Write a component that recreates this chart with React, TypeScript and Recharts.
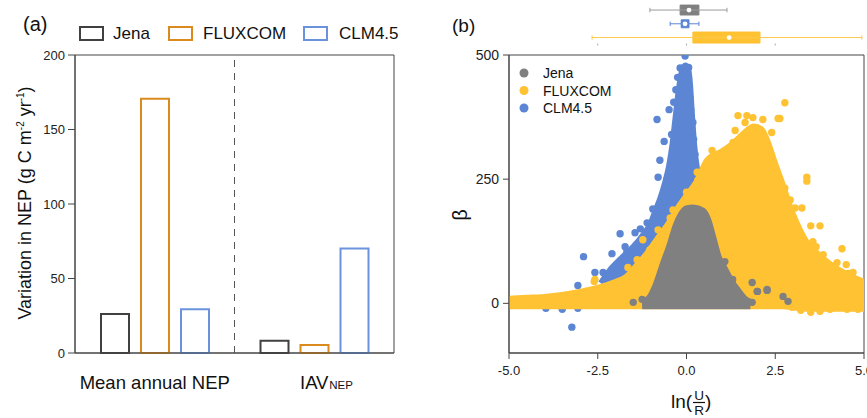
import React from "react";
import {
  Area,
  Bar,
  BarChart,
  ComposedChart,
  ReferenceArea,
  ReferenceLine,
  Scatter,
  XAxis,
  YAxis,
} from "recharts";

const FONT = '"Liberation Sans", Arial, Helvetica, sans-serif';

// ---- panel (a) ----
const groups = ["Mean annual NEP", "IAV"];
const jenaVar = [26.1, 8.2];
const fluxcomVar = [170.6, 5.3];
const clmVar = [29.4, 70.2];
const seriesNames = ["Jena", "FLUXCOM", "CLM4.5"];
const barColors = ["#404040", "#DB8A1E", "#6A93DC"];
const yTicksA = [0, 50, 100, 150, 200];

// ---- panel (b) ----
const dotColors = ["#808080", "#FFC233", "#5C86D4"];
const xTicksB = [-5, -2.5, 0, 2.5, 5];
const yTicksB = [0, 250, 500];

// dense cloud outlines: [x, low, high]
const clmCloud = [
  [-2.4, 0, 40], [-2.1, 0, 70], [-1.8, 0, 92], [-1.5, 0, 112], [-1.2, 0, 138],
  [-1.0, 0, 160], [-0.85, 0, 188], [-0.72, 0, 212], [-0.6, 0, 240], [-0.48, 0, 275],
  [-0.38, 0, 320], [-0.3, 0, 370], [-0.22, 0, 420], [-0.13, 0, 462], [-0.04, 0, 478],
  [0.03, 0, 472], [0.08, 0, 445], [0.13, 0, 390], [0.2, 0, 320], [0.3, 0, 262],
  [0.45, 0, 225],
];
const fluxCloud = [
  [-5.0, -5, 8], [-4.5, -5, 10], [-4.0, -5, 12], [-3.5, -5, 16], [-3.0, -5, 22],
  [-2.5, -5, 30], [-2.0, -5, 42], [-1.7, -5, 52], [-1.4, -5, 75], [-1.1, -5, 100],
  [-0.8, -5, 130], [-0.5, -5, 160], [-0.2, -5, 195], [0.0, -5, 215], [0.3, -5, 245],
  [0.6, -5, 288], [1.0, -5, 305], [1.3, -5, 320], [1.6, -5, 340], [1.9, -5, 355],
  [2.1, -5, 350], [2.3, -5, 320], [2.45, -5, 288], [2.7, -5, 238], [2.9, -6, 195],
  [3.1, -8, 160], [3.4, -10, 120], [3.7, -10, 98], [4.1, -10, 75], [4.5, -10, 58],
  [4.8, -10, 48], [5.0, -10, 42],
];
const jenaCloud = [
  [-1.25, -5, 2], [-1.05, -5, 10], [-0.85, -5, 38], [-0.65, -5, 80], [-0.45, -5, 120],
  [-0.3, -5, 155], [-0.15, -5, 178], [0.0, -5, 190], [0.2, -5, 192], [0.45, -5, 186],
  [0.6, -5, 168], [0.75, -5, 130], [0.9, -5, 92], [1.05, -5, 72], [1.25, -5, 45],
  [1.45, -5, 25], [1.65, -5, 8], [1.8, -5, 2],
];

// scattered points outside the dense clouds: [x, y]
const clmDots = [
  [-0.83, 370], [-0.49, 390], [-0.63, 326], [-0.75, 288], [-0.8, 254], [-0.66, 214],
  [0.18, 364], [0.1, 414], [-0.04, 498], [-0.18, 474], [0.01, 448], [-1.87, 140],
  [-1.45, 142], [-2.9, 94], [-2.58, 62], [-2.35, 62], [-1.68, 104], [-1.11, 162],
  [-1.73, 114], [-3.06, 36], [-1.87, 72], [-3.96, -10], [-3.5, -12], [-3.06, -10],
  [-3.23, -48], [-4.35, -4], [-0.3, 430], [0.12, 390], [0.2, 330], [-0.55, 250],
  [-1.3, 150], [-2.1, 100], [-0.95, 190], [-0.25, 455], [0.06, 475], [-0.42, 340],
  [0.24, 300], [-0.36, 405],
];
const fluxDots = [
  [2.77, 404], [1.7, 378], [1.87, 374], [2.15, 370], [2.63, 372], [1.45, 378],
  [1.65, 364], [2.58, 372], [1.37, 348], [1.31, 324], [2.4, 344], [0.72, 308],
  [1.03, 302], [0.58, 284], [0.32, 248], [0.3, 264], [0.0, 224], [0.15, 212],
  [-0.04, 204], [3.39, 254], [3.39, 246], [2.77, 232], [2.92, 208], [3.06, 192],
  [3.25, 192], [3.5, 156], [3.76, 156], [3.56, 124], [3.65, 114], [3.85, 98],
  [4.38, 110], [4.24, 82], [4.5, 78], [4.69, 62], [4.55, 60], [2.97, -8],
  [3.22, -14], [3.5, -18], [3.76, -16], [4.04, -12], [4.52, -12], [4.83, -12],
  [-0.8, 148], [-0.46, 172], [-1.23, 128], [-1.03, 108], [-1.39, 88], [-2.58, 48],
  [-0.38, 188], [-2.6, 44], [-1.65, 72],
];
const jenaDots = [
  [-1.5, 2], [-1.25, 8], [1.85, 42], [2.0, 24], [2.27, 26], [2.72, 14], [2.86, 4],
  [1.85, 2], [1.3, 2], [1.08, 84], [1.99, 24], [2.27, 28], [1.3, 48],
];

// box plots above panel (b), top to bottom
const boxNames = ["Jena", "CLM4.5", "FLUXCOM"];
const boxLow = [-1.03, -0.46, -2.66];
const boxQ1 = [-0.18, -0.15, 0.18];
const boxMed = [0.07, -0.04, 1.2];
const boxQ3 = [0.35, 0.07, 2.07];
const boxHigh = [1.14, 0.35, 4.94];
const boxFill = ["#808080", "#5C86D4", "#FFC233"];
const boxWhisker = ["#9a9a9a", "#5C86D4", "#FFC94D"];
const boxHalf = [0.36, 0.29, 0.4];
const boxAxisTicks = [-2.5, 0, 2.5];

const barData = groups.map((g, i) => ({
  group: g,
  jena: jenaVar[i],
  fluxcom: fluxcomVar[i],
  clm: clmVar[i],
}));
const toRange = (rows: number[][]) => rows.map(([x, lo, hi]) => ({ x, r: [lo, hi] }));
const toPts = (rows: number[][]) => rows.map(([x, y]) => ({ x, y }));

const dot = (color: string, r = 3.7) => (p: any) => (
  <circle cx={p.cx} cy={p.cy} r={r} fill={color} />
);

function GroupTick({ x, payload }: any) {
  if (payload.value === "IAV") {
    return (
      <g>
        <text x={x} y={389} textAnchor="middle" fontSize={18.5} fill="#111">
          IAV
        </text>
        <text x={x + 15} y={389} fontSize={11.5} fill="#111">
          NEP
        </text>
      </g>
    );
  }
  return (
    <text x={x} y={389} textAnchor="middle" fontSize={18.5} fill="#111">
      {payload.value}
    </text>
  );
}

function PanelA() {
  const keys = ["jena", "fluxcom", "clm"];
  return (
    <BarChart
      width={430}
      height={418}
      data={barData}
      margin={{ top: 55, right: 36, bottom: 35, left: 35 }}
      barSize={28}
      barGap={12}
    >
      <XAxis
        dataKey="group"
        height={30}
        interval={0}
        tickLine={false}
        axisLine={{ stroke: "#444" }}
        tick={<GroupTick />}
      />
      <YAxis
        width={40}
        domain={[0, 200]}
        ticks={yTicksA}
        interval={0}
        tickSize={7}
        tickMargin={3}
        axisLine={{ stroke: "#444" }}
        tickLine={{ stroke: "#444" }}
        tick={{ fill: "#222", fontSize: 13 }}
      />
      {/* frame round the plot */}
      <ReferenceArea
        x1="Mean annual NEP"
        x2="IAV"
        y1={0}
        y2={200}
        fill="none"
        stroke="#444"
        ifOverflow="visible"
      />
      <ReferenceLine x="IAV" position="start" stroke="#555" strokeDasharray="7 6" />
      {keys.map((k, i) => (
        <Bar
          key={k}
          dataKey={k}
          fill="#ffffff"
          stroke={barColors[i]}
          strokeWidth={2}
          isAnimationActive={false}
        />
      ))}
    </BarChart>
  );
}

function PanelB() {
  const clouds = [clmCloud, fluxCloud, jenaCloud];
  const pts = [clmDots, fluxDots, jenaDots];
  const colors = [dotColors[2], dotColors[1], dotColors[0]];
  return (
    <ComposedChart
      width={437}
      height={418}
      margin={{ top: 55, right: 3, bottom: 40, left: 39 }}
    >
      <XAxis
        type="number"
        dataKey="x"
        domain={[-5, 5]}
        ticks={xTicksB}
        interval={0}
        allowDataOverflow
        height={25}
        tickSize={6}
        tickMargin={7}
        tickFormatter={(v: number) => v.toFixed(1)}
        axisLine={{ stroke: "#444" }}
        tickLine={{ stroke: "#444" }}
        tick={{ fill: "#222", fontSize: 13 }}
      />
      <YAxis
        type="number"
        dataKey="y"
        domain={[-100, 500]}
        ticks={yTicksB}
        interval={0}
        allowDataOverflow
        width={40}
        tickSize={6}
        tickMargin={4}
        axisLine={{ stroke: "#444" }}
        tickLine={{ stroke: "#444" }}
        tick={{ fill: "#222", fontSize: 14 }}
      />
      <ReferenceArea x1={-5} x2={5} y1={-100} y2={500} fill="none" stroke="#444" />
      {clouds.map((c, i) => (
        <React.Fragment key={i}>
          <Area
            data={toRange(c)}
            dataKey="r"
            type="monotone"
            fill={colors[i]}
            fillOpacity={1}
            stroke={colors[i]}
            strokeWidth={7}
            strokeLinejoin="round"
            zIndex={101 + i * 2}
            isAnimationActive={false}
          />
          <Scatter
            data={toPts(pts[i])}
            shape={dot(colors[i])}
            zIndex={102 + i * 2}
            isAnimationActive={false}
          />
        </React.Fragment>
      ))}
    </ComposedChart>
  );
}

function BoxPlots() {
  return (
    <ComposedChart
      width={437}
      height={55}
      margin={{ top: 0, right: 3, bottom: 0, left: 79 }}
    >
      <XAxis type="number" dataKey="x" domain={[-5, 5]} hide allowDataOverflow />
      <YAxis type="number" dataKey="y" domain={[-0.27, 3.73]} hide allowDataOverflow />
      {boxAxisTicks.map((t) => (
        <ReferenceLine
          key={"t" + t}
          segment={[{ x: t, y: 0.42 }, { x: t, y: 0.56 }]}
          stroke="#aaa"
        />
      ))}
      {boxNames.map((n, i) => {
        const row = 3 - i;
        return (
          <React.Fragment key={n}>
            <ReferenceLine
              segment={[{ x: boxLow[i], y: row }, { x: boxHigh[i], y: row }]}
              stroke={boxWhisker[i]}
            />
            <ReferenceLine
              segment={[{ x: boxLow[i], y: row - 0.16 }, { x: boxLow[i], y: row + 0.16 }]}
              stroke={boxWhisker[i]}
            />
            <ReferenceLine
              segment={[{ x: boxHigh[i], y: row - 0.16 }, { x: boxHigh[i], y: row + 0.16 }]}
              stroke={boxWhisker[i]}
            />
            <ReferenceArea
              x1={boxQ1[i]}
              x2={boxQ3[i]}
              y1={row - boxHalf[i]}
              y2={row + boxHalf[i]}
              fill={boxFill[i]}
              fillOpacity={1}
              stroke={boxFill[i]}
            />
          </React.Fragment>
        );
      })}
      <Scatter
        data={boxMed.map((m, i) => ({ x: m, y: 3 - i }))}
        shape={dot("#ffffff", 2.4)}
        zIndex={900}
        isAnimationActive={false}
      />
    </ComposedChart>
  );
}

function Overlay() {
  const legendA = [
    { box: 79, text: 113 },
    { box: 168, text: 203 },
    { box: 303, text: 339 },
  ];
  const legendB = [dotColors[0], dotColors[1], dotColors[2]];
  return (
    <svg
      width={867}
      height={418}
      style={{ position: "absolute", left: 0, top: 0, pointerEvents: "none" }}
      fontFamily={FONT}
    >
      <text x={23} y={31} fontSize={20} fill="#111">(a)</text>
      <text x={452} y={32} fontSize={19} fill="#111">(b)</text>
      {seriesNames.map((s, i) => (
        <g key={s}>
          <rect
            x={legendA[i].box + 1}
            y={27}
            width={23}
            height={13}
            fill="none"
            stroke={barColors[i]}
            strokeWidth={2}
          />
          <text x={legendA[i].text} y={39} fontSize={17} fill="#111">{s}</text>
        </g>
      ))}
      <text
        x={31}
        y={203}
        fontSize={18}
        fill="#111"
        textAnchor="middle"
        transform="rotate(-90 31 203)"
      >
        Variation in NEP (g C m
        <tspan dy={-7} fontSize={10}>-2</tspan>
        <tspan dy={7}> yr</tspan>
        <tspan dy={-7} fontSize={10}>-1</tspan>
        <tspan dy={7}>)</tspan>
      </text>
      {seriesNames.map((s, i) => (
        <g key={"b" + s}>
          <circle cx={524} cy={73 + i * 17.5} r={4.5} fill={legendB[i]} />
          <text x={543} y={78 + i * 17.5} fontSize={14} fill="#111">{s}</text>
        </g>
      ))}
      <text
        x={467}
        y={215}
        fontSize={20}
        fill="#111"
        textAnchor="middle"
        transform="rotate(-90 467 215)"
      >
        β
      </text>
      <text x={671} y={408} fontSize={19} fill="#111">ln(</text>
      <text x={699} y={400} fontSize={13.5} fill="#111" textAnchor="middle">U</text>
      <line x1={693} x2={705} y1={402.5} y2={402.5} stroke="#111" strokeWidth={1.2} />
      <text x={699} y={415} fontSize={13.5} fill="#111" textAnchor="middle">R</text>
      <text x={705} y={408} fontSize={19} fill="#111">)</text>
    </svg>
  );
}

export default function App() {
  return (
    <div
      style={{
        position: "absolute",
        left: 0,
        top: 0,
        width: 867,
        height: 418,
        background: "#fff",
        fontFamily: FONT,
        overflow: "hidden",
      }}
    >
      <div style={{ position: "absolute", left: 0, top: 0 }}>
        <PanelA />
      </div>
      <div style={{ position: "absolute", left: 430, top: 0 }}>
        <PanelB />
      </div>
      <div style={{ position: "absolute", left: 430, top: 0 }}>
        <BoxPlots />
      </div>
      <Overlay />
    </div>
  );
}
